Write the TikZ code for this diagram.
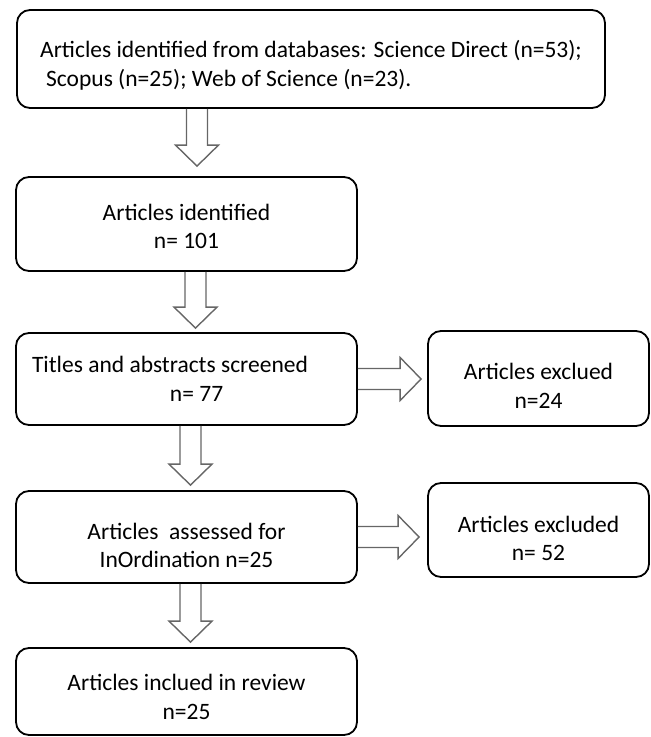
\documentclass[tikz,border=0pt]{standalone}
\usepackage{fontspec}
\setmainfont{Carlito}
\usetikzlibrary{calc}

\begin{document}
\begin{tikzpicture}[x=1pt, y=-1pt,
  font=\fontsize{23.5}{28.5}\selectfont,
  box/.style={draw, line width=1.8pt, rounded corners=13pt, inner sep=0pt, align=center},
  blockarrow/.style={draw=black!60, line width=1.4pt, line join=miter,
    to path={($(\tikztostart)!10.5pt!90:(\tikztotarget)$)
      -- ($($(\tikztotarget)!21pt!(\tikztostart)$)!10.5pt!90:(\tikztotarget)$)
      -- ($($(\tikztotarget)!21pt!(\tikztostart)$)!21.5pt!90:(\tikztotarget)$)
      -- (\tikztotarget)
      -- ($($(\tikztotarget)!21pt!(\tikztostart)$)!21.5pt!-90:(\tikztotarget)$)
      -- ($($(\tikztotarget)!21pt!(\tikztostart)$)!10.5pt!-90:(\tikztotarget)$)
      -- ($(\tikztostart)!10.5pt!-90:(\tikztotarget)$)}}]
  \useasboundingbox (0,0) rectangle (651,737);

  % main column
  \node[box, minimum width=588pt, minimum height=98pt, align=flush left] (src) at (311,59)
    {\rule{0pt}{29.5pt}Articles identified from databases: Science Direct (n=53);\\\hspace{6pt}Scopus (n=25); Web of Science (n=23).};
  \node[box, minimum width=341pt, minimum height=94pt] (ident) at (186.5,224) {\rule{0pt}{21.5pt}Articles identified\\n= 101};
  \node[box, minimum width=341pt, minimum height=92pt, align=flush left, text width=309pt, inner xsep=16pt] (screen) at (186.5,379)
    {Titles and abstracts screened\\\hspace{138pt}n= 77};
  \node[box, minimum width=341pt, minimum height=92pt] (assess) at (186.5,537) {\rule{0pt}{33pt}Articles~ assessed for\\InOrdination n=25};
  \node[box, minimum width=341pt, minimum height=87pt] (incl) at (186.5,691.5) {\rule{0pt}{27.5pt}Articles inclued in review\\n=25};

  % exclusions
  \node[box, minimum width=221pt, minimum height=95pt] (excla) at (538.5,378.5) {\rule{0pt}{31pt}Articles exclued\\n=24};
  \node[box, minimum width=221pt, minimum height=94pt] (exclb) at (538.5,530) {\rule{0pt}{33pt}Articles excluded\\n= 52};

  % arrow tips
  \path (ident.north) ++(10.5pt,10pt) coordinate (tipa);
  \path (screen.north) ++(9pt,4pt) coordinate (tipb);
  \path (assess.north) ++(4pt,5pt) coordinate (tipc);
  \path (incl.north) ++(4pt,5pt) coordinate (tipd);
  \path (excla.west |- screen.east) ++(-6pt,0pt) coordinate (tipe);
  \path (exclb.west |- assess.east) ++(-8pt,0pt) coordinate (tipf);

  \draw[blockarrow] (src.south -| tipa) to (tipa);
  \draw[blockarrow] (ident.south -| tipb) to (tipb);
  \draw[blockarrow] (screen.south -| tipc) to (tipc);
  \draw[blockarrow] (assess.south -| tipd) to (tipd);
  \draw[blockarrow] (screen.east) to (tipe);
  \draw[blockarrow] (assess.east) to (tipf);
\end{tikzpicture}
\end{document}
